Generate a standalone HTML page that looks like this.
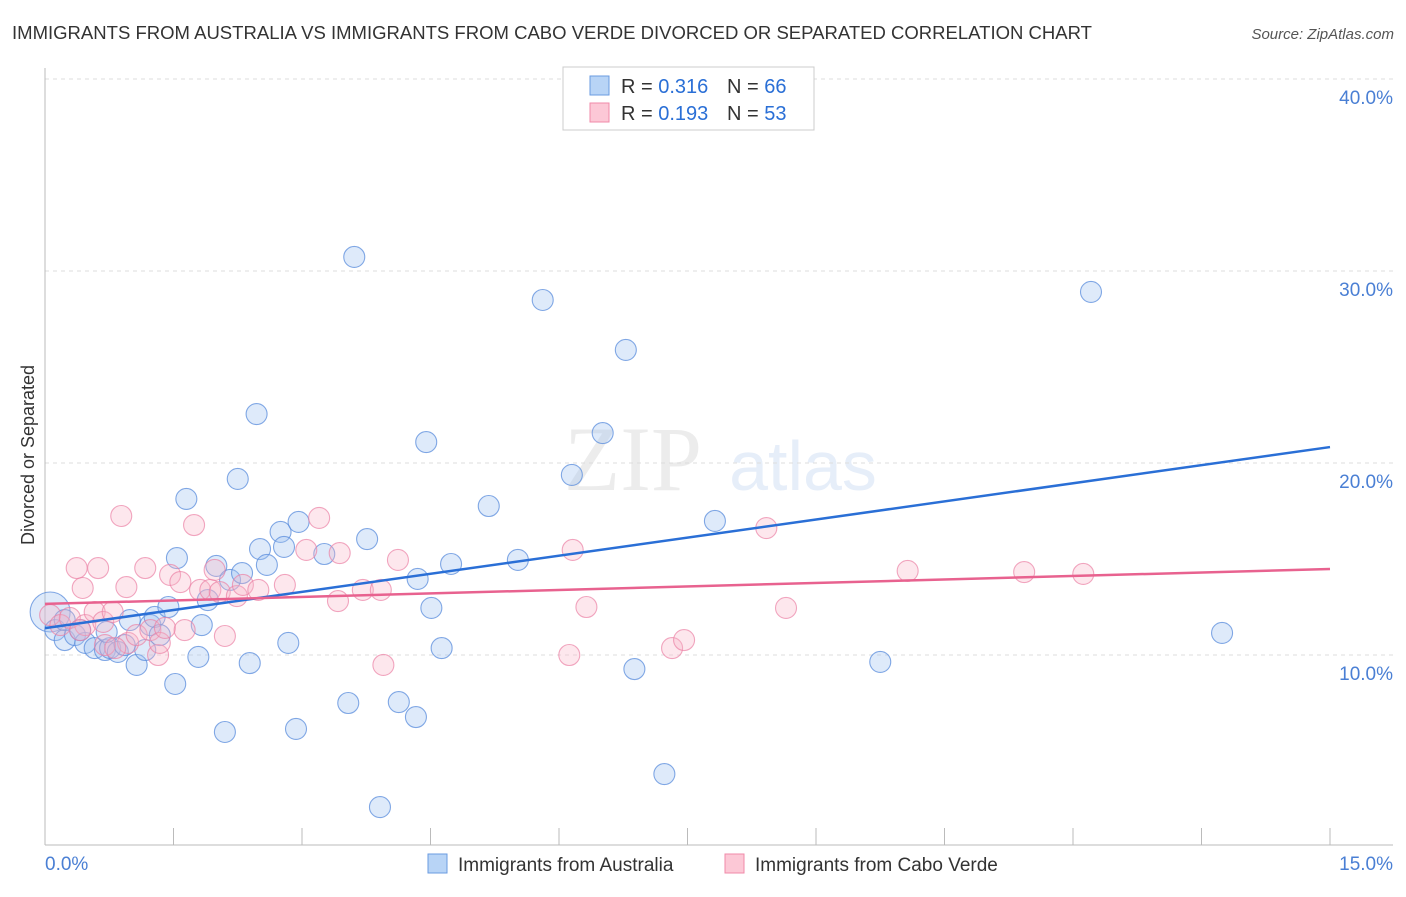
<!DOCTYPE html>
<html><head><meta charset="utf-8"><style>
body{margin:0;background:#fff;font-family:"Liberation Sans",sans-serif}
</style></head><body>
<svg width="1406" height="892" viewBox="0 0 1406 892" xmlns="http://www.w3.org/2000/svg" font-family="Liberation Sans, sans-serif">
<text x="12" y="39" font-size="18" fill="#333" textLength="1080" lengthAdjust="spacingAndGlyphs">IMMIGRANTS FROM AUSTRALIA VS IMMIGRANTS FROM CABO VERDE DIVORCED OR SEPARATED CORRELATION CHART</text>
<text x="1394" y="39" font-size="15" fill="#555" font-style="italic" text-anchor="end">Source: ZipAtlas.com</text>
<g opacity="0.13"><text x="633" y="490" font-size="92" font-family="Liberation Serif, serif" fill="#777" text-anchor="middle">ZIP</text><text x="803" y="490" font-size="70" fill="#4a7fd4" text-anchor="middle">atlas</text></g>
<g id="grid"></g>
<line x1="45" y1="68" x2="45" y2="845" stroke="#bbb"/>
<line x1="45" y1="845" x2="1393" y2="845" stroke="#bbb"/>
<text x="28" y="455" font-size="18" fill="#333" transform="rotate(-90 28 455)" text-anchor="middle" dy="6">Divorced or Separated</text>
<g id="pts"></g>
<g id="trend"></g>
<text x="45" y="870" font-size="19" fill="#4a7fd4">0.0%</text>
<text x="1393" y="870" font-size="19" fill="#4a7fd4" text-anchor="end">15.0%</text>
<g>
<rect x="563" y="67" width="251" height="63" fill="#fff" stroke="#ccc"/>
<rect x="590" y="76" width="19" height="19" fill="#b8d4f6" stroke="#6a9be0"/>
<rect x="590" y="103" width="19" height="19" fill="#fcc8d6" stroke="#f08aa8"/>
<text x="621" y="93" font-size="20" fill="#333">R = <tspan fill="#2a6fd6">0.316</tspan></text>
<text x="727" y="93" font-size="20" fill="#333">N = <tspan fill="#2a6fd6">66</tspan></text>
<text x="621" y="120" font-size="20" fill="#333">R = <tspan fill="#2a6fd6">0.193</tspan></text>
<text x="727" y="120" font-size="20" fill="#333">N = <tspan fill="#2a6fd6">53</tspan></text>
</g>
<g>
<rect x="428" y="854" width="19" height="19" fill="#b8d4f6" stroke="#6a9be0"/>
<text x="458" y="871" font-size="19" fill="#333">Immigrants from Australia</text>
<rect x="725" y="854" width="19" height="19" fill="#fcc8d6" stroke="#f08aa8"/>
<text x="755" y="871" font-size="19" fill="#333">Immigrants from Cabo Verde</text>
</g>
</svg>
<script>
const yTicks=[10,20,30,40];
const yTickLabels=["10.0%","20.0%","30.0%","40.0%"];
const xTicks=[0,1.5,3,4.5,6,7.5,9,10.5,12,13.5,15];
const blueX=[.06,.12,.23,.35,.47,.58,.70,.76,.85,.93,.72,.99,1.07,1.17,1.23,1.28,1.34,1.44,1.52,1.54,1.65,1.79,1.83,1.90,2.00,2.10,2.16,2.25,2.30,2.39,2.47,2.51,2.59,2.75,2.79,2.84,2.93,2.96,3.26,3.54,3.61,3.76,3.91,4.13,4.33,4.35,4.45,4.51,4.63,4.74,5.18,5.52,5.81,6.15,6.51,6.78,6.88,7.23,7.82,9.75,12.21,13.74,.23,.41];
const blueY=[12.24,11.30,10.78,11.04,10.63,10.36,10.26,10.36,10.16,10.52,11.20,11.82,9.48,10.26,11.56,11.98,11.04,12.50,8.49,15.05,18.13,9.90,11.56,12.86,14.64,5.99,13.91,19.17,14.27,9.58,22.55,15.52,14.69,16.41,15.63,10.63,6.15,16.93,15.26,7.50,30.73,16.04,2.08,7.55,6.77,13.96,21.09,12.45,10.36,14.74,17.76,14.95,28.49,19.38,21.56,25.89,9.27,3.80,16.98,9.64,28.91,11.15,11.82,11.30];
const pinkX=[.06,.18,.29,.47,.58,.68,.37,.44,.62,.70,.79,.89,.95,.97,1.07,1.17,1.23,1.32,1.34,1.46,1.58,1.74,1.81,1.93,1.98,2.04,2.10,2.24,2.31,2.49,2.80,3.05,3.20,3.42,3.44,3.71,3.92,3.95,4.12,6.12,6.16,6.32,7.32,7.46,8.42,8.65,10.07,11.43,12.12,.41,.82,1.40,1.63];
const pinkY=[12.08,11.56,11.93,11.56,12.24,11.72,14.53,13.49,14.53,10.52,12.24,17.24,13.54,10.63,11.04,14.53,11.30,10.00,10.63,14.17,13.80,16.77,13.39,13.39,14.43,13.28,10.99,13.07,13.65,13.39,13.65,15.47,17.14,12.81,15.31,13.39,13.39,9.48,14.95,10.00,15.47,12.50,10.36,10.78,16.61,12.45,14.38,14.32,14.22,11.30,10.36,11.41,11.30];
const blueTrend=[11.4,20.83];
const pinkTrend=[12.66,14.48];
const NS="http://www.w3.org/2000/svg";
const sx=v=>45+v/15*1285, sy=v=>847-v*19.2;
function mk(t,a,p){const e=document.createElementNS(NS,t);for(const k in a)e.setAttribute(k,a[k]);p.appendChild(e);return e;}
const grid=document.getElementById('grid');
yTicks.forEach((t,i)=>{
 const l=mk('line',{x1:45,x2:1393,y1:sy(t),y2:sy(t),stroke:'#ddd','stroke-dasharray':'4,4'},grid);
 
 
 const tx=mk('text',{x:1393,y:sy(t)+25,'font-size':19,fill:'#4a7fd4','text-anchor':'end'},grid);
 tx.textContent=yTickLabels[i];
 
 
});
xTicks.forEach(t=>{
 const l=mk('line',{x1:sx(t),x2:sx(t),y1:828,y2:845,stroke:'#bbb'},grid);
 
 
});
const pts=document.getElementById('pts');
blueX.forEach((x,i)=>{
 const c=mk('circle',{cx:sx(x),cy:sy(blueY[i]),r:i===0?20:10.5,fill:'rgba(160,196,240,0.35)',stroke:'rgba(90,140,220,0.75)','stroke-width':1.1},pts);
 
 
});
pinkX.forEach((x,i)=>{
 const c=mk('circle',{cx:sx(x),cy:sy(pinkY[i]),r:10.5,fill:'rgba(248,180,200,0.32)',stroke:'rgba(235,130,165,0.7)','stroke-width':1.1},pts);
 
 
});
const tr=document.getElementById('trend');
const b=mk('line',{x1:sx(0),y1:sy(blueTrend[0]),x2:sx(15),y2:sy(blueTrend[1]),stroke:'#2a6fd6','stroke-width':2.5},tr);


const p=mk('line',{x1:sx(0),y1:sy(pinkTrend[0]),x2:sx(15),y2:sy(pinkTrend[1]),stroke:'#e8628f','stroke-width':2.5},tr);


</script>
</body></html>
